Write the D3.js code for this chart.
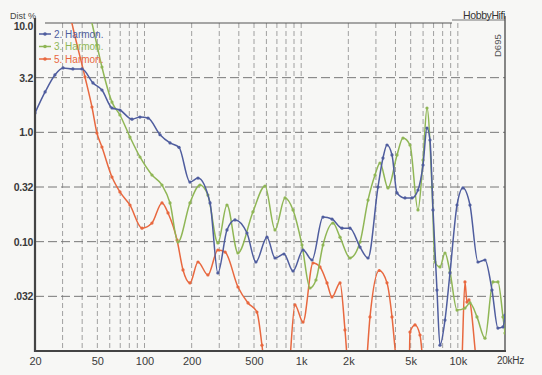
<!DOCTYPE html>
<html>
<head>
<meta charset="utf-8">
<script src="https://cdn.jsdelivr.net/npm/d3@7"></script>
<style>
  body { margin: 0; background: #f7f7f5; }
  svg { display: block; font-family: "Liberation Sans", Arial, sans-serif; }
</style>
</head>
<body>
<script>
// 2nd harmonic
const h2Freq = [20, 23.2, 26.8, 30.2, 34.9, 39.9, 46.9, 53.5, 62, 69.7, 83.2, 93.6, 105.3, 125.6, 145.5, 166, 195, 219.5, 262, 294, 336, 378, 451, 514, 605, 681, 777, 887, 1028, 1173, 1378, 1573, 1823, 2050, 2375, 2671, 3092, 3328, 3531, 3800, 4091, 4600, 5095, 5567, 5994, 6356, 6641, 6941, 7359, 7693, 8279, 8910, 9881, 10785, 11956, 13450, 14905, 16520, 18030, 19420, 20000];
const h2Val = [1.5, 2.34, 3.35, 3.88, 3.8, 3.8, 2.83, 2.44, 1.67, 1.6, 1.32, 1.38, 1.35, 0.95, 0.8, 0.73, 0.351, 0.382, 0.226, 0.0517, 0.128, 0.158, 0.12, 0.0652, 0.11, 0.0709, 0.0771, 0.0539, 0.0839, 0.068, 0.168, 0.161, 0.133, 0.133, 0.0893, 0.0709, 0.316, 0.582, 0.766, 0.621, 0.279, 0.251, 0.251, 0.297, 0.502, 1.096, 0.851, 0.195, 0.0361, 0.0113, 0.0192, 0.0517, 0.216, 0.31, 0.216, 0.0652, 0.068, 0.0361, 0.0162, 0.0166, 0.0213];

// 3rd harmonic
const h3Freq = [43.6, 46.2, 49.7, 53.5, 62, 69.7, 80.8, 93.6, 111.6, 129.3, 145.5, 163.6, 195, 226, 254, 294, 336, 395, 492, 588, 681, 789, 887, 1012, 1138, 1243, 1378, 1596, 1770, 2050, 2375, 2671, 2960, 3185, 3583, 4091, 4466, 4950, 5567, 5994, 6356, 6840, 7146, 7693, 8279, 8910, 9881, 11104, 11956, 13250, 14905, 16760, 18030, 19420, 20000];
const h3Val = [14.6, 10, 6.29, 3.96, 1.89, 1.44, 0.906, 0.595, 0.407, 0.33, 0.226, 0.0993, 0.226, 0.33, 0.267, 0.0972, 0.216, 0.0788, 0.187, 0.323, 0.128, 0.251, 0.195, 0.0932, 0.0377, 0.0446, 0.0932, 0.148, 0.11, 0.0709, 0.0993, 0.24, 0.407, 0.524, 0.31, 0.621, 0.887, 0.766, 0.195, 0.558, 1.669, 0.316, 0.0652, 0.0587, 0.0788, 0.0528, 0.0237, 0.0247, 0.0275, 0.0205, 0.0131, 0.0428, 0.0428, 0.0205, 0.0146];

// 5th harmonic
const h5Freq = [32.5, 34.4, 41.7, 46.2, 49.7, 53.5, 62, 69.7, 80.8, 96.4, 111.6, 129.3, 141.3, 161.3, 176.1, 195, 219.5, 254, 294, 327, 395, 458, 522, 562, 596, 700, 824, 913, 1028, 1190, 1318, 1462, 1573, 1770, 1904, 2020, 2280, 2555, 2750, 3150, 3531, 3800, 3973, 4300, 4880, 4950, 5330, 5734, 6172, 8000, 10470, 11104, 11440, 11780, 12870, 13450, 16000, 20000];
const h5Val = [14.6, 10, 3.21, 1.705, 0.986, 0.734, 0.39, 0.285, 0.216, 0.133, 0.148, 0.226, 0.183, 0.1035, 0.0551, 0.0419, 0.0652, 0.0496, 0.0839, 0.0804, 0.0385, 0.0275, 0.0227, 0.0113, 0.0054, 0.003, 0.0054, 0.0264, 0.0184, 0.0638, 0.0587, 0.0419, 0.0312, 0.0419, 0.0156, 0.0054, 0.003, 0.0054, 0.0205, 0.0545, 0.042, 0.0205, 0.0105, 0.003, 0.0054, 0.0149, 0.0173, 0.014, 0.0054, 0.003, 0.0054, 0.0428, 0.028, 0.0293, 0.0105, 0.005, 0.003, 0.003];

const seriesNames = ["2. Harmon.", "3. Harmon.", "5. Harmon."];
const seriesColors = ["#4f5d9e", "#8fb655", "#e8683f"];

const xTickVals = [20, 50, 100, 200, 500, 1000, 2000, 5000, 10000];
const xTickLabels = ["20", "50", "100", "200", "500", "1k", "2k", "5k", "10k"];
const yTickVals = [10, 3.162, 1, 0.3162, 0.1, 0.03162];
const yTickLabels = ["10.0", "3.2", "1.0", "0.32", "0.10", ".032"];

const width = 542, height = 375;
const mLeft = 35, mRight = 505, mTop = 23, mBottom = 351;

const svg = d3.select("body").append("svg")
  .attr("width", width)
  .attr("height", height);

const x = d3.scaleLog().domain([20, 20000]).range([mLeft, mRight]);
const y = d3.scaleLog().domain([0.01, 10]).range([mBottom, mTop]);

// vertical grid
const vGrid = x.ticks().filter(d => d > 20 && d < 20000);
svg.append("g")
  .selectAll("line")
  .data(vGrid)
  .join("line")
    .attr("x1", d => x(d)).attr("x2", d => x(d))
    .attr("y1", mTop).attr("y2", mBottom)
    .attr("stroke", "#8a8a8a")
    .attr("stroke-width", 0.8)
    .attr("stroke-dasharray", "5,3");

// horizontal grid
svg.append("g")
  .selectAll("line")
  .data(yTickVals.slice(1))
  .join("line")
    .attr("x1", mLeft).attr("x2", mRight)
    .attr("y1", d => y(d)).attr("y2", d => y(d))
    .attr("stroke", "#777")
    .attr("stroke-width", 1)
    .attr("stroke-dasharray", "9,4");

// frame
svg.append("line").attr("x1", 45).attr("x2", 452).attr("y1", mTop).attr("y2", mTop)
  .attr("stroke", "#555").attr("stroke-width", 1.2);
svg.append("line").attr("x1", 452).attr("x2", mRight).attr("y1", 20).attr("y2", 20)
  .attr("stroke", "#555").attr("stroke-width", 0.8);
svg.append("line").attr("x1", mRight).attr("x2", mRight).attr("y1", 16).attr("y2", mBottom)
  .attr("stroke", "#555").attr("stroke-width", 1.4);
svg.append("line").attr("x1", mLeft).attr("x2", mLeft).attr("y1", 18).attr("y2", mBottom + 1)
  .attr("stroke", "#444").attr("stroke-width", 2.2);
svg.append("line").attr("x1", mLeft - 1).attr("x2", mRight + 1).attr("y1", mBottom).attr("y2", mBottom)
  .attr("stroke", "#444").attr("stroke-width", 2.2);

// axes
const xAxis = svg.append("g")
  .attr("transform", `translate(0,${mBottom})`)
  .call(d3.axisBottom(x).tickValues(xTickVals).tickSize(0).tickPadding(6)
    .tickFormat((d, i) => xTickLabels[i]));
xAxis.select(".domain").remove();
xAxis.selectAll("text")
  .attr("font-size", 11).attr("fill", "#3a3a3a")
  .attr("font-family", "'Liberation Sans', Arial, sans-serif");

svg.append("text")
  .attr("x", 497).attr("y", 364)
  .attr("font-size", 10).attr("fill", "#3a3a3a")
  .attr("letter-spacing", -0.3)
  .text("20kHz");

const yAxis = svg.append("g")
  .attr("transform", `translate(${mLeft},0)`)
  .call(d3.axisLeft(y).tickValues(yTickVals).tickSize(0).tickPadding(2)
    .tickFormat((d, i) => yTickLabels[i]));
yAxis.select(".domain").remove();
yAxis.selectAll("text")
  .attr("font-size", 10.5).attr("fill", "#3a3a3a").attr("font-weight", "bold")
  .attr("letter-spacing", -0.3)
  .attr("font-family", "'Liberation Sans', Arial, sans-serif");
yAxis.selectAll(".tick").filter(d => d === 10)
  .attr("transform", `translate(0,${y(10) + 4})`);

svg.append("text")
  .attr("x", 10).attr("y", 19)
  .attr("font-size", 9).attr("fill", "#444")
  .text("Dist %");

svg.append("text")
  .attr("x", 505).attr("y", 19)
  .attr("text-anchor", "end")
  .attr("font-size", 10.5).attr("fill", "#333")
  .attr("letter-spacing", -0.4)
  .text("HobbyHifi");

svg.append("text")
  .attr("transform", "translate(501,57) rotate(-90)")
  .attr("font-size", 9.5).attr("fill", "#555")
  .text("D695");

// curves
svg.append("clipPath").attr("id", "plot")
  .append("rect")
    .attr("x", mLeft + 1).attr("y", mTop)
    .attr("width", mRight - mLeft - 1).attr("height", mBottom - mTop - 1);

const series = [
  { freq: h2Freq, val: h2Val },
  { freq: h3Freq, val: h3Val },
  { freq: h5Freq, val: h5Val }
];

const line = d3.line()
  .x(d => x(d[0]))
  .y(d => y(d[1]))
  .curve(d3.curveMonotoneX);

const plot = svg.append("g").attr("clip-path", "url(#plot)");

[2, 1, 0].forEach(i => {
  const s = series[i];
  const pts = s.freq.map((f, j) => [f, s.val[j]]);
  plot.append("path")
    .attr("d", line(pts))
    .attr("fill", "none")
    .attr("stroke", seriesColors[i])
    .attr("stroke-width", 1.5);
  plot.append("g")
    .selectAll("circle")
    .data(pts.filter(p => p[1] > 0.0105 && p[1] < 10))
    .join("circle")
      .attr("cx", d => x(d[0]))
      .attr("cy", d => y(d[1]))
      .attr("r", 1.6)
      .attr("fill", seriesColors[i]);
});

// legend
const legend = svg.append("g")
  .selectAll("g")
  .data(seriesNames)
  .join("g")
    .attr("transform", (d, i) => `translate(39,${34 + i * 12.5})`);

legend.append("line")
  .attr("x1", 0).attr("x2", 12)
  .attr("stroke", (d, i) => seriesColors[i])
  .attr("stroke-width", 1.5);
legend.append("circle")
  .attr("cx", 6).attr("r", 1.8)
  .attr("fill", (d, i) => seriesColors[i]);
legend.append("text")
  .attr("x", 15).attr("y", 3.5)
  .attr("font-size", 10)
  .attr("fill", (d, i) => seriesColors[i])
  .text(d => d);
</script>
</body>
</html>
